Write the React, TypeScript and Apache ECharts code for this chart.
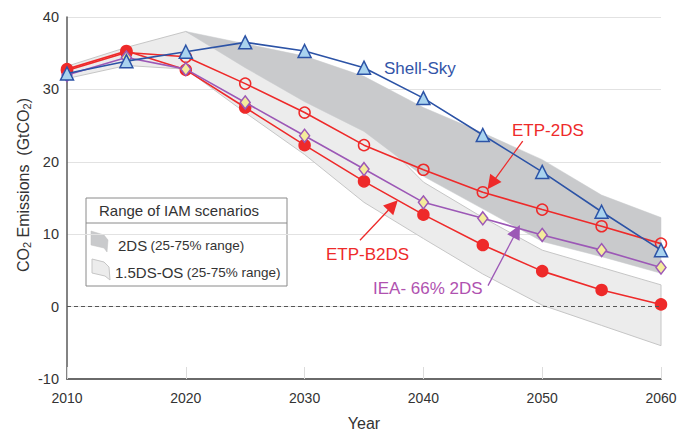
import React, { useEffect, useRef } from "react";
import * as echarts from "echarts";

const years = [2010, 2015, 2020, 2025, 2030, 2035, 2040, 2045, 2050, 2055, 2060];
const shellSky = [32.2, 33.9, 35.2, 36.5, 35.3, 33.0, 28.8, 23.7, 18.6, 13.1, 7.8];
const etp2ds = [32.6, 35.1, 34.5, 30.8, 26.8, 22.3, 18.9, 15.8, 13.4, 11.1, 8.7];
const etpB2ds = [32.8, 35.3, 32.7, 27.5, 22.3, 17.3, 12.7, 8.5, 4.9, 2.3, 0.3];
const iea66 = [32.0, 34.4, 32.8, 28.2, 23.6, 19.0, 14.4, 12.2, 9.9, 7.8, 5.4];

const band2dsYears = [2020, 2025, 2030, 2035, 2040, 2045, 2050, 2055, 2060];
const band2dsHigh = [38.0, 36.3, 34.6, 31.8, 27.5, 24.0, 20.3, 15.4, 12.3];
const band2dsLow = [38.0, 33.0, 28.3, 24.2, 18.0, 13.5, 9.0, 6.9, 4.6];

const band15Years = years;
const band15High = [33.2, 35.8, 38.0, 34.0, 29.5, 25.5, 17.2, 12.3, 7.8, 5.4, 3.0];
const band15Low = [31.5, 33.3, 32.8, 26.8, 21.0, 14.4, 9.4, 4.5, 0.2, -2.6, -5.4];

const yTicks = { min: -10, max: 40, interval: 10 };
const xTicks = { min: 2010, max: 2060, interval: 10 };

const FONT = "Liberation Sans, Arial, Helvetica, sans-serif";
const RED = "#ee2a2a";
const BLUE = "#2c53a6";
const PURPLE = "#9c58b6";

function bandSeries(name: string, yrs: number[], lo: number[], hi: number[], fill: string, stroke: string, lw: number) {
  return {
    type: "custom",
    name,
    silent: true,
    z: 1,
    data: yrs.map((y, i) => [y, lo[i], hi[i]]),
    encode: { x: 0, y: [1, 2] },
    renderItem: (params: any, api: any) => {
      if (params.dataIndex !== 0) return null;
      const top = yrs.map((y, i) => api.coord([y, hi[i]]));
      const bot = yrs.map((y, i) => api.coord([y, lo[i]])).reverse();
      return {
        type: "polygon",
        shape: { points: [...top, ...bot] },
        style: { fill, stroke, lineWidth: lw },
      };
    },
  };
}

function lineSeries(name: string, vals: number[], color: string, symbol: string, size: any, fill: string, z: number) {
  return {
    type: "line",
    name,
    z,
    data: years.map((y, i) => [y, vals[i]]),
    symbol,
    symbolSize: size,
    showAllSymbol: true,
    lineStyle: { color, width: 1.6 },
    itemStyle: { color: fill, borderColor: color, borderWidth: 1.5 },
    emphasis: { disabled: true },
  };
}

function arrowSeries(name: string, from: number[], to: number[], color: string) {
  return {
    type: "line",
    name,
    z: 7,
    data: [],
    silent: true,
    markLine: {
      silent: true,
      symbol: ["none", "triangle"],
      symbolSize: 14,
      label: { show: false },
      lineStyle: { color, width: 1.3, type: "solid" },
      itemStyle: { color },
      emphasis: { disabled: true },
      data: [[{ coord: from }, { coord: to }]],
    },
  };
}

export default function App() {
  const ref = useRef<HTMLDivElement>(null);
  useEffect(() => {
    if (!ref.current) return;
    const chart = echarts.init(ref.current, null, { renderer: "svg" });
    chart.setOption({
      animation: false,
      backgroundColor: "#ffffff",
      textStyle: { fontFamily: FONT },
      grid: { left: 67, right: 26, top: 17, bottom: 53, containLabel: false, outerBoundsMode: "none" },
      xAxis: {
        type: "value",
        min: xTicks.min,
        max: xTicks.max,
        interval: xTicks.interval,
        name: "Year",
        nameLocation: "middle",
        nameGap: 36,
        nameTextStyle: { fontSize: 16, color: "#333", fontFamily: FONT },
        axisLine: { show: true, onZero: false, lineStyle: { color: "#6a6a6a", width: 2 } },
        axisTick: { show: true, inside: true, length: 12, lineStyle: { color: "#dcdcdc", width: 1 } },
        axisLabel: { fontSize: 14, color: "#333", margin: 12, fontFamily: FONT, formatter: (v: number) => String(v) },
        splitLine: { show: false },
      },
      yAxis: {
        type: "value",
        min: yTicks.min,
        max: yTicks.max,
        interval: yTicks.interval,
        name: "{a|CO}{s|2}{a| Emissions  (GtCO}{s|2}{a|)}",
        nameLocation: "middle",
        nameGap: 35,
        nameMoveOverlap: false,
        nameTextStyle: {
          color: "#333",
          fontFamily: FONT,
          padding: [0, 0, 0, 26],
          rich: {
            a: { fontSize: 16, color: "#333", fontFamily: FONT },
            s: { fontSize: 11, color: "#333", fontFamily: FONT, padding: [7, 0, 0, 0] },
          },
        },
        axisLine: { show: true, onZero: false, lineStyle: { color: "#5a5a5a", width: 1.5 } },
        axisTick: { show: false },
        axisLabel: { fontSize: 14.5, color: "#333", margin: 8, fontFamily: FONT },
        splitLine: { show: true, lineStyle: { color: "#e2e2e2", width: 1 } },
      },
      series: [
        bandSeries("1.5DS-OS", band15Years, band15Low, band15High, "#ececec", "#c6c6c6", 1),
        bandSeries("2DS", band2dsYears, band2dsLow, band2dsHigh, "#c9cacc", "#c9cacc", 0.5),
        {
          ...lineSeries("ETP-2DS", etp2ds, RED, "circle", 11, "rgba(255,255,255,0)", 3),
          markLine: {
            silent: true,
            symbol: ["none", "none"],
            label: { show: false },
            lineStyle: { color: "#555", type: [4, 3], width: 1 },
            data: [{ yAxis: 0 }],
          },
        },
        lineSeries("ETP-B2DS", etpB2ds, RED, "circle", 11, RED, 4),
        lineSeries("IEA- 66% 2DS", iea66, PURPLE, "diamond", [10, 13], "#f4ec9c", 5),
        lineSeries("Shell-Sky", shellSky, BLUE, "triangle", 13, "#a9d3ef", 6),
        arrowSeries("arrow-etp2ds", [2048.36, 22.86], [2045.75, 17.0], RED),
        arrowSeries("arrow-etpb2ds", [2034.66, 9.17], [2037.44, 14.0], RED),
        arrowSeries("arrow-iea", [2045.44, 2.9], [2047.85, 10.4], PURPLE),
      ],
      graphic: [
        { type: "text", x: 384, y: 68, style: { text: "Shell-Sky", fill: "#3355a8", fontSize: 17, fontFamily: FONT, verticalAlign: "middle" } },
        { type: "text", x: 512, y: 130, style: { text: "ETP-2DS", fill: RED, fontSize: 17, fontFamily: FONT, verticalAlign: "middle" } },
        { type: "text", x: 326, y: 254, style: { text: "ETP-B2DS", fill: RED, fontSize: 17, fontFamily: FONT, verticalAlign: "middle" } },
        { type: "text", x: 373, y: 288, style: { text: "IEA- 66% 2DS", fill: "#b052b0", fontSize: 17, fontFamily: FONT, verticalAlign: "middle" } },
        {
          type: "group",
          z: 100,
          children: [
            { type: "rect", shape: { x: 86, y: 198, width: 201, height: 88 }, style: { fill: "#ffffff", stroke: "#8a8a8a", lineWidth: 1 } },
            { type: "line", shape: { x1: 86, y1: 223, x2: 287, y2: 223 }, style: { stroke: "#8a8a8a", lineWidth: 1 } },
            { type: "text", x: 179, y: 210, style: { text: "Range of IAM scenarios", fill: "#333", fontSize: 15, fontFamily: FONT, align: "center", verticalAlign: "middle" } },
            { type: "polygon", shape: { points: [[91, 231], [104, 235], [108, 240], [107, 252], [104, 248], [91, 245]] }, style: { fill: "#c9cacc", stroke: "#c0c0c0", lineWidth: 0.5 } },
            {
              type: "text", x: 118, y: 245,
              style: {
                text: "{a|2DS} {b|(25-75% range)}",
                verticalAlign: "middle",
                rich: { a: { fontSize: 15, fill: "#333", fontFamily: FONT }, b: { fontSize: 13.5, fill: "#333", fontFamily: FONT } },
              },
            },
            { type: "polygon", shape: { points: [[92, 259], [104, 262], [109, 267], [110, 280], [105, 276], [92, 273]] }, style: { fill: "#ececec", stroke: "#c6c6c6", lineWidth: 1 } },
            {
              type: "text", x: 115, y: 272,
              style: {
                text: "{a|1.5DS-OS} {b|(25-75% range)}",
                verticalAlign: "middle",
                rich: { a: { fontSize: 15, fill: "#333", fontFamily: FONT }, b: { fontSize: 13.5, fill: "#333", fontFamily: FONT } },
              },
            },
          ],
        },
      ],
    });
    return () => chart.dispose();
  }, []);
  return <div ref={ref} style={{ position: "fixed", left: 0, top: 0, width: 687, height: 432 }} />;
}
